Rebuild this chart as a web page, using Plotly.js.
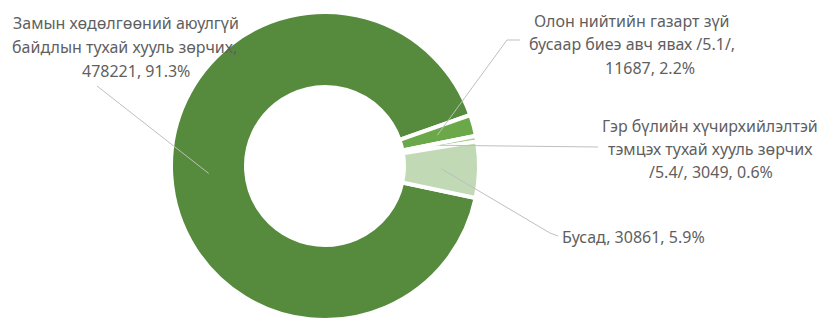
<!DOCTYPE html>
<html>
<head>
<meta charset="utf-8">
<script src="https://cdn.plot.ly/plotly-3.0.1.min.js"></script>
<style>html,body{margin:0;padding:0;background:#fff;}#chart{width:822px;height:320px;}</style>
</head>
<body>
<div id="chart"></div>
<script>
// ---- data ----
const categories = [
  "Замын хөдөлгөөний аюулгүй байдлын тухай хууль зөрчих",
  "Олон нийтийн газарт зүй бусаар биеэ авч явах /5.1/",
  "Гэр бүлийн хүчирхийлэлтэй тэмцэх тухай хууль зөрчих /5.4/",
  "Бусад"
];
const values = [478221, 11687, 3049, 30861];
const percentLabels = ["91.3%", "2.2%", "0.6%", "5.9%"];
const labelLines = [
  ["Замын хөдөлгөөний аюулгүй", "байдлын тухай хууль зөрчих,", "478221, 91.3%"],
  ["Олон нийтийн газарт зүй", "бусаар биеэ авч явах /5.1/,", "11687, 2.2%"],
  ["Гэр бүлийн хүчирхийлэлтэй", "тэмцэх тухай хууль зөрчих", "/5.4/, 3049, 0.6%"],
  ["Бусад, 30861, 5.9%"]
];
const colors = ["#568b3e", "#6aa84a", "#a9cf8f", "#c1d9b4"];

// ---- layout constants ----
const W = 822, H = 320;
const CX = 325, CY = 166, R = 154, HOLE = 0.513, ROT = 102;
const px = x => x / W;
const py = y => 1 - y / H;

// per-line label placement (x centre / anchor, y centre), leader elbow and end
const labelPos = [
  {xs: [126, 124, 136], ys: [23, 47, 71], anchor: 'center', elbow: null, end: [97, 86]},
  {xs: [632, 632, 650], ys: [21, 44.5, 68], anchor: 'center', elbow: [507, 40], end: [520, 40]},
  {xs: [710, 710, 711], ys: [126, 149, 172], anchor: 'center', elbow: null, end: [598, 147]},
  {xs: [560], ys: [237], anchor: 'left', elbow: [550, 233], end: [558, 236]}
];

const total = values.reduce((a, b) => a + b, 0);
let cum = 0;
const anchors = values.map(v => {
  const mid = ROT + (cum + v / 2) / total * 360;
  cum += v;
  const a = mid * Math.PI / 180;
  const rr = R * (1 + HOLE) / 2;
  return [CX + rr * Math.sin(a), CY - rr * Math.cos(a)];
});

const shapes = anchors.map((p, i) => {
  const lp = labelPos[i];
  let d = `M ${px(p[0])},${py(p[1])}`;
  if (lp.elbow) d += ` L ${px(lp.elbow[0])},${py(lp.elbow[1])}`;
  d += ` L ${px(lp.end[0])},${py(lp.end[1])}`;
  return {type: 'path', xref: 'paper', yref: 'paper', path: d,
          line: {color: '#bfbfbf', width: 1}};
});

const annotations = [];
labelLines.forEach((lines, i) => {
  const lp = labelPos[i];
  lines.forEach((t, j) => {
    annotations.push({
      xref: 'paper', yref: 'paper',
      x: px(lp.xs[j]), y: py(lp.ys[j]),
      xanchor: lp.anchor, yanchor: 'middle',
      text: t, showarrow: false,
      font: {family: 'Noto Sans', size: 16, color: '#5f5f5f'}
    });
  });
});

const trace = {
  type: 'pie',
  labels: categories,
  values: values,
  sort: false,
  direction: 'clockwise',
  rotation: ROT,
  hole: HOLE,
  textinfo: 'none',
  hoverinfo: 'label+value+percent',
  marker: {colors: colors, line: {color: '#ffffff', width: 4}},
  domain: {x: [px(CX - R), px(CX + R)], y: [py(CY + R), py(CY - R)]},
  showlegend: false
};

Plotly.newPlot('chart', [trace], {
  width: W, height: H,
  margin: {l: 0, r: 0, t: 0, b: 0},
  paper_bgcolor: '#ffffff',
  plot_bgcolor: '#ffffff',
  shapes: shapes,
  annotations: annotations
}, {displayModeBar: false, staticPlot: true});
</script>
</body>
</html>
